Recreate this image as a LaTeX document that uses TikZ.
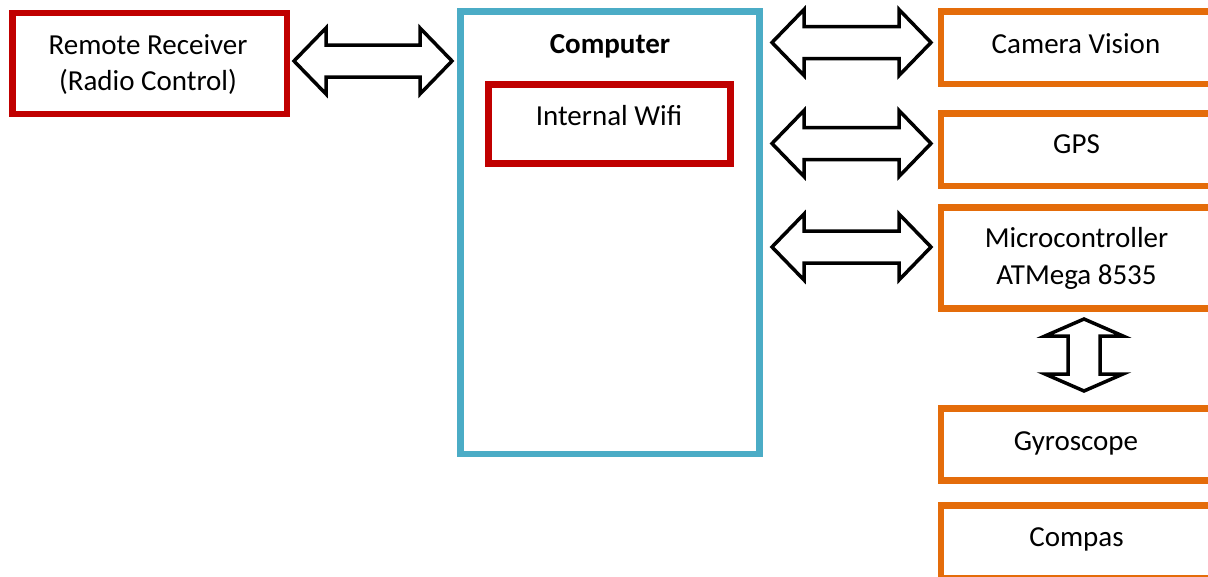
\documentclass[tikz,border=0pt]{standalone}
\usepackage{fontspec}
\setmainfont{Carlito}
\usetikzlibrary{calc}
\definecolor{bred}{HTML}{C00000}
\definecolor{bcyan}{HTML}{4BACC6}
\definecolor{borange}{HTML}{E46C0A}
\tikzset{
  frame/.style={draw=#1, line width=6.5pt, inner sep=0pt, outer sep=0pt, fill=white},
  lbl/.style={font=\fontsize{29pt}{36.5pt}\selectfont, inner sep=0pt, anchor=base, align=center},
  blockarr/.style={draw=black, fill=white, line width=3.5pt, line join=miter}
}
\newcommand\hdbl[2]{%
  \draw[blockarr] let \p1=(#1), \p2=(#2) in
    (\p1) -- (\x1+32pt,\y1+33pt) -- (\x1+32pt,\y1+16pt) -- (\x2-32pt,\y2+16pt)
    -- (\x2-32pt,\y2+33pt) -- (\p2) -- (\x2-32pt,\y2-33pt) -- (\x2-32pt,\y2-16pt)
    -- (\x1+32pt,\y1-16pt) -- (\x1+32pt,\y1-33pt) -- cycle;}
\newcommand\vdbl[2]{%
  \draw[blockarr] let \p1=(#1), \p2=(#2) in
    (\p1) -- (\x1+39pt,\y1-17pt) -- (\x1+16pt,\y1-17pt) -- (\x2+16pt,\y2+17pt)
    -- (\x2+39pt,\y2+17pt) -- (\p2) -- (\x2-39pt,\y2+17pt) -- (\x2-16pt,\y2+17pt)
    -- (\x1-16pt,\y1-17pt) -- (\x1-39pt,\y1-17pt) -- cycle;}
\begin{document}
\begin{tikzpicture}[x=1pt,y=-1pt]
\useasboundingbox (0,0) rectangle (1208,576);
\clip (0,0) rectangle (1208,576);
% boxes
\node[frame=bred, minimum width=274.5pt, minimum height=101pt] (rr) at (149.75,63.5) {};
\node[frame=bcyan, minimum width=299pt, minimum height=442.5pt] (comp) at (610,232.75) {};
\node[frame=bred, minimum width=242pt, minimum height=79pt] (wifi) at (609.5,124) {};
\node[frame=borange, minimum width=279pt, minimum height=72.5pt] (cam) at (1080.5,47.75) {};
\node[frame=borange, minimum width=279pt, minimum height=72.5pt] (gps) at (1080.5,149.75) {};
\node[frame=borange, minimum width=279pt, minimum height=101pt] (mcu) at (1080.5,258) {};
\node[frame=borange, minimum width=279pt, minimum height=72pt] (gyro) at (1080.5,444.5) {};
\node[frame=borange, minimum width=279pt, minimum height=73pt] (comp2) at (1080.5,542) {};
% labels (multi-line: base anchor = last line's baseline)
\node[lbl] (rrt) at (148,90.5) {Remote Receiver\\(Radio Control)};
\node[lbl] (compt) at (610,53.3) {\bfseries Computer};
\node[lbl] (wifit) at (609,125) {Internal Wifi};
\node[lbl] (camt) at (1076,53.3) {Camera Vision};
\node[lbl] (gpst) at (1076.5,153.3) {GPS};
\node[lbl] (mcut) at (1076.5,284) {Microcontroller\\ATMega 8535};
\node[lbl] (gyrot) at (1076,450) {Gyroscope};
\node[lbl] (compat) at (1076.5,546.7) {Compas};
% arrow end points
\coordinate (a1l) at (294,61);   \coordinate (a1r) at (452,61);
\coordinate (a2l) at (772,42.5); \coordinate (a2r) at (931,42.5);
\coordinate (a3l) at (772,143.5);\coordinate (a3r) at (931,143.5);
\coordinate (a4l) at (772,247);  \coordinate (a4r) at (931,247);
\coordinate (v1t) at (1084,319); \coordinate (v1b) at (1084,391);
\hdbl{a1l}{a1r}
\hdbl{a2l}{a2r}
\hdbl{a3l}{a3r}
\hdbl{a4l}{a4r}
\vdbl{v1t}{v1b}
\end{tikzpicture}
\end{document}
